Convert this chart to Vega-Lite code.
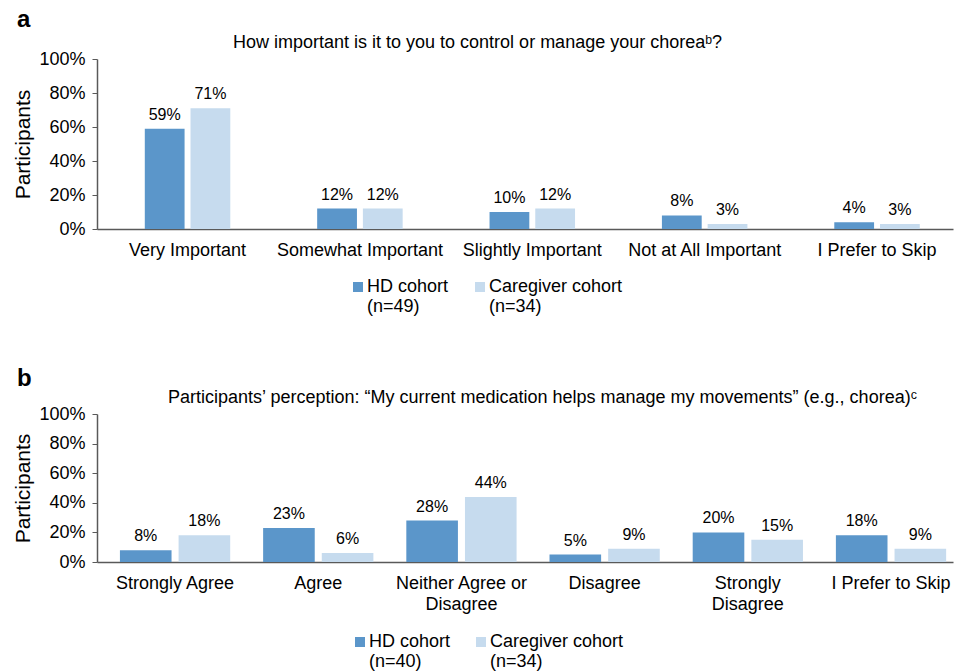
{
  "$schema": "https://vega.github.io/schema/vega-lite/v6.json",
  "padding": {"left": 12, "top": 8, "right": 4, "bottom": 0},
  "spacing": 51,
  "config": {
    "font": "Liberation Sans",
    "view": {"stroke": null},
    "axis": {"labelColor": "#000000", "titleColor": "#000000", "domainColor": "#595959", "tickColor": "#595959", "grid": false, "labelFont": "Liberation Sans", "titleFont": "Liberation Sans"},
    "legend": {"labelFont": "Liberation Sans", "labelColor": "#000000"},
    "title": {"font": "Liberation Sans", "color": "#000000"}
  },
  "resolve": {"scale": {"color": "independent", "xOffset": "independent"}, "legend": {"color": "independent"}},
  "vconcat": [
    {
      "title": {"text": "a", "anchor": "start", "frame": "bounds", "fontSize": 24, "fontWeight": "bold", "offset": 2, "dx": 4},
      "vconcat": [
        {
          "width": 856,
          "height": 170,
          "title": {"text": "How important is it to you to control or manage your choreaᵇ?", "anchor": "start", "frame": "group", "dx": 136, "fontSize": 18, "fontWeight": "normal", "baseline": "alphabetic", "offset": -16},
          "data": {"values": [
            {"cat": "Very Important", "cohort": "HD cohort|(n=49)", "v": 0.59},
            {"cat": "Very Important", "cohort": "Caregiver cohort|(n=34)", "v": 0.71},
            {"cat": "Somewhat Important", "cohort": "HD cohort|(n=49)", "v": 0.12},
            {"cat": "Somewhat Important", "cohort": "Caregiver cohort|(n=34)", "v": 0.12},
            {"cat": "Slightly Important", "cohort": "HD cohort|(n=49)", "v": 0.10},
            {"cat": "Slightly Important", "cohort": "Caregiver cohort|(n=34)", "v": 0.12},
            {"cat": "Not at All Important", "cohort": "HD cohort|(n=49)", "v": 0.08},
            {"cat": "Not at All Important", "cohort": "Caregiver cohort|(n=34)", "v": 0.03},
            {"cat": "I Prefer to Skip", "cohort": "HD cohort|(n=49)", "v": 0.04},
            {"cat": "I Prefer to Skip", "cohort": "Caregiver cohort|(n=34)", "v": 0.03}
          ]},
          "encoding": {
            "x": {"field": "cat", "type": "nominal", "sort": null,
              "scale": {"paddingInner": 0.504, "paddingOuter": 0.235, "align": 0.59},
              "axis": {"title": null, "labelAngle": 0, "ticks": false, "labelFontSize": 18, "labelPadding": 12, "domainWidth": 1.5}},
            "xOffset": {"field": "cohort", "type": "nominal", "sort": null, "scale": {"domain": ["HD cohort|(n=49)", "Caregiver cohort|(n=34)"], "paddingInner": 0.13, "paddingOuter": 0}},
            "y": {"field": "v", "type": "quantitative",
              "scale": {"domain": [0, 1]},
              "axis": {"title": "Participants", "titleFontSize": 21, "titleFontWeight": "normal", "titlePadding": 5, "values": [0, 0.2, 0.4, 0.6, 0.8, 1], "format": ".0%", "labelFontSize": 18, "tickSize": 5, "labelPadding": 7, "domainWidth": 1.5}}
          },
          "layer": [
            {
              "mark": {"type": "bar"},
              "encoding": {
                "color": {"field": "cohort", "type": "nominal", "sort": null,
                  "scale": {"domain": ["HD cohort|(n=49)", "Caregiver cohort|(n=34)"], "range": ["#5B96CA", "#C6DBEE"]},
                  "legend": {"title": null, "orient": "none", "legendX": 252, "legendY": 219, "direction": "horizontal", "symbolType": "square", "symbolSize": 100, "symbolStrokeWidth": 0, "labelFontSize": 18, "labelExpr": "split(datum.value, '|')", "labelBaseline": "middle", "labelLineHeight": 20, "labelOffset": 0, "columnPadding": 22}}
              }
            },
            {
              "mark": {"type": "text", "fontSize": 16, "baseline": "alphabetic", "dy": -9, "color": "#000000"},
              "encoding": {
                "text": {"field": "v", "type": "quantitative", "format": ".0%"}
              }
            }
          ]
        }
      ]
    },
    {
      "title": {"text": "b", "anchor": "start", "frame": "bounds", "fontSize": 24, "fontWeight": "bold", "offset": -2, "dx": 4},
      "vconcat": [
        {
          "width": 856,
          "height": 148,
          "title": {"text": "Participants’ perception:  “My current medication helps manage my movements”  (e.g., chorea)ᶜ", "anchor": "start", "frame": "group", "dx": 71, "fontSize": 18, "fontWeight": "normal", "baseline": "alphabetic", "offset": -16},
          "data": {"values": [
            {"cat": "Strongly Agree", "cohort": "HD cohort|(n=40)", "v": 0.08},
            {"cat": "Strongly Agree", "cohort": "Caregiver cohort|(n=34)", "v": 0.18},
            {"cat": "Agree", "cohort": "HD cohort|(n=40)", "v": 0.23},
            {"cat": "Agree", "cohort": "Caregiver cohort|(n=34)", "v": 0.06},
            {"cat": "Neither Agree or Disagree", "cohort": "HD cohort|(n=40)", "v": 0.28},
            {"cat": "Neither Agree or Disagree", "cohort": "Caregiver cohort|(n=34)", "v": 0.44},
            {"cat": "Disagree", "cohort": "HD cohort|(n=40)", "v": 0.05},
            {"cat": "Disagree", "cohort": "Caregiver cohort|(n=34)", "v": 0.09},
            {"cat": "Strongly Disagree", "cohort": "HD cohort|(n=40)", "v": 0.20},
            {"cat": "Strongly Disagree", "cohort": "Caregiver cohort|(n=34)", "v": 0.15},
            {"cat": "I Prefer to Skip", "cohort": "HD cohort|(n=40)", "v": 0.18},
            {"cat": "I Prefer to Skip", "cohort": "Caregiver cohort|(n=34)", "v": 0.09}
          ]},
          "encoding": {
            "x": {"field": "cat", "type": "nominal", "sort": null,
              "scale": {"paddingInner": 0.23, "paddingOuter": 0.104, "align": 0.77},
              "axis": {"title": null, "labelAngle": 0, "ticks": false, "labelFontSize": 18, "labelPadding": 12, "labelLineHeight": 21, "domainWidth": 1.5,
                "labelExpr": "datum.value == 'Neither Agree or Disagree' ? ['Neither Agree or', 'Disagree'] : datum.value == 'Strongly Disagree' ? ['Strongly', 'Disagree'] : datum.value"}},
            "xOffset": {"field": "cohort", "type": "nominal", "sort": null, "scale": {"domain": ["HD cohort|(n=40)", "Caregiver cohort|(n=34)"], "paddingInner": 0.12, "paddingOuter": 0}},
            "y": {"field": "v", "type": "quantitative",
              "scale": {"domain": [0, 1]},
              "axis": {"title": "Participants", "titleFontSize": 21, "titleFontWeight": "normal", "titlePadding": 5, "values": [0, 0.2, 0.4, 0.6, 0.8, 1], "format": ".0%", "labelFontSize": 18, "tickSize": 5, "labelPadding": 7, "domainWidth": 1.5}}
          },
          "layer": [
            {
              "mark": {"type": "bar"},
              "encoding": {
                "color": {"field": "cohort", "type": "nominal", "sort": null,
                  "scale": {"domain": ["HD cohort|(n=40)", "Caregiver cohort|(n=34)"], "range": ["#5B96CA", "#C6DBEE"]},
                  "legend": {"title": null, "orient": "none", "legendX": 254, "legendY": 219, "direction": "horizontal", "symbolType": "square", "symbolSize": 100, "symbolStrokeWidth": 0, "labelFontSize": 18, "labelExpr": "split(datum.value, '|')", "labelBaseline": "middle", "labelLineHeight": 20, "labelOffset": 0, "columnPadding": 21}}
              }
            },
            {
              "mark": {"type": "text", "fontSize": 16, "baseline": "alphabetic", "dy": -9, "color": "#000000"},
              "encoding": {
                "text": {"field": "v", "type": "quantitative", "format": ".0%"}
              }
            }
          ]
        }
      ]
    }
  ]
}
